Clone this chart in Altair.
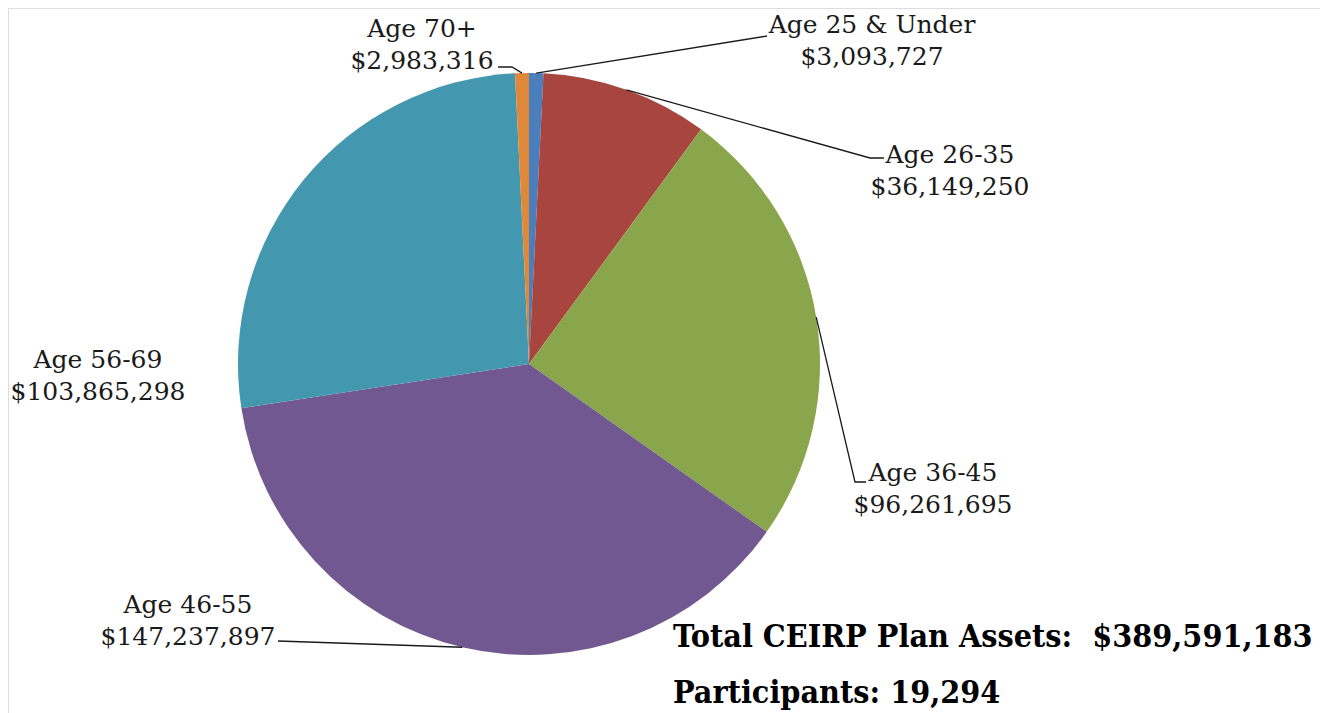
import math
import altair as alt
import pandas as pd

# ---- data ----
categories = ["Age 25 & Under", "Age 26-35", "Age 36-45", "Age 46-55", "Age 56-69", "Age 70+"]
values = [3093727, 36149250, 96261695, 147237897, 103865298, 2983316]
colors = ["#4A7EBD", "#A8453F", "#8AA64C", "#725890", "#4397AF", "#E0883A"]
total_text = "Total CEIRP Plan Assets:\u00a0\u00a0$389,591,183"
participants_text = "Participants: 19,294"

# ---- layout (chart pixel frame) ----
W, H = 1312, 705
CX, CY, R = 521, 356, 291
# label: (center x, first baseline y) ; leader: extra points after the edge point
label_pos = {
    "Age 25 & Under": (864, 25),
    "Age 26-35": (942, 155),
    "Age 36-45": (925, 473),
    "Age 46-55": (180, 605),
    "Age 56-69": (90, 360),
    "Age 70+": (414, 29),
}
leader_pts = {
    "Age 25 & Under": [(759, 28)],
    "Age 26-35": [(862, 150), (876, 150)],
    "Age 36-45": [(847, 474), (858, 474)],
    "Age 46-55": [(270, 633)],
    "Age 70+": [(504, 59), (490, 59)],
}

df = pd.DataFrame({"category": categories, "value": values, "order": range(len(categories))})
df["label"] = [f"{c}\n${v:,}" for c, v in zip(categories, values)]
df["lx"] = [label_pos[c][0] for c in categories]
df["ly"] = [label_pos[c][1] for c in categories]

total = sum(values)
rows = []
cum = 0
for c, v in zip(categories, values):
    mid = (cum + v / 2) / total * 2 * math.pi
    cum += v
    if c not in leader_pts:
        continue
    ex = CX + R * math.sin(mid)
    ey = CY - R * math.cos(mid)
    pts = [(ex, ey)] + leader_pts[c]
    for i, (px, py) in enumerate(pts):
        rows.append({"category": c, "i": i, "px": px, "py": py})
lines = pd.DataFrame(rows)

xs = alt.Scale(domain=[0, W], range=[0, W])
ys = alt.Scale(domain=[0, H], range=[0, H])

pie = alt.Chart(df).mark_arc(radius=R).encode(
    theta=alt.Theta("value:Q", stack=True),
    color=alt.Color("category:N", scale=alt.Scale(domain=categories, range=colors), legend=None),
    order=alt.Order("order:Q"),
    x=alt.value(CX),
    y=alt.value(CY),
)

leaders = alt.Chart(lines).mark_line(color="#1a1a1a", strokeWidth=1.3).encode(
    x=alt.X("px:Q", scale=xs, axis=None),
    y=alt.Y("py:Q", scale=ys, axis=None),
    detail="category:N",
    order="i:Q",
)

labels = alt.Chart(df).mark_text(
    font="DejaVu Serif", fontSize=25, lineHeight=32, lineBreak="\n",
    align="center", baseline="alphabetic", color="#1a1a1a",
).encode(
    x=alt.X("lx:Q", scale=xs, axis=None),
    y=alt.Y("ly:Q", scale=ys, axis=None),
    text="label:N",
)

notes = pd.DataFrame({"t": [total_text, participants_text], "nx": [665, 665], "ny": [639, 695]})
bold = alt.Chart(notes).mark_text(
    font="DejaVu Serif Condensed", fontWeight="bold", fontSize=32,
    align="left", baseline="alphabetic", color="#000000",
).encode(
    x=alt.X("nx:Q", scale=xs, axis=None),
    y=alt.Y("ny:Q", scale=ys, axis=None),
    text="t:N",
)

chart = alt.layer(pie, leaders, labels, bold).properties(
    width=W, height=H, padding=0, autosize=alt.AutoSizeParams(type="none")
).configure_view(stroke="transparent", strokeWidth=0).configure(background="white")

chart.save("out.html", embed_options={"renderer": "svg", "actions": False})
